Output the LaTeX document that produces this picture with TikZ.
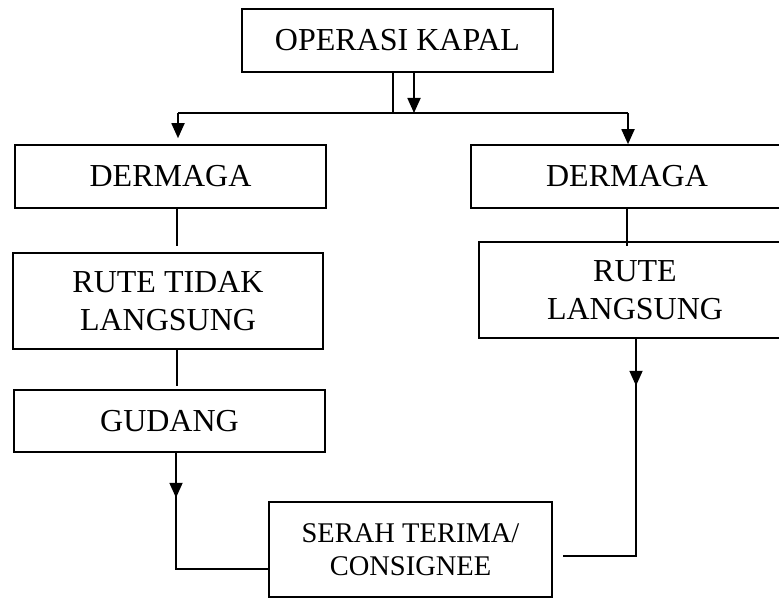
\documentclass[tikz,border=0pt]{standalone}
\usepackage{fontspec}
\setmainfont{Liberation Serif}
\usetikzlibrary{arrows.meta,decorations.markings}

\begin{document}
\begin{tikzpicture}[
  x=1pt, y=1pt,
  >={Triangle[length=15pt,width=13pt]},
  box/.style={draw, line width=1.6pt, minimum width=311pt,
              minimum height=63pt, inner sep=0pt, align=center,
              font=\fontsize{32}{38}\selectfont},
  tallbox/.style={box, minimum height=96pt},
  link/.style={line width=1.8pt},
  arr/.style={->, line width=1.8pt},
  midarr/.style={link, postaction={decorate},
                 decoration={markings, mark=at position #1 with {\arrow{>}}}},
]
\useasboundingbox (0,0) rectangle (779,-599);

% ---- Top ----
\node[box] (opk) at (397.5,-40.5) {OPERASI KAPAL};
\coordinate (bus) at (397.5,-113);

% ---- Left lane ----
\node[box] (dermL) at (170.5,-176.5) {DERMAGA};
\node[tallbox, minimum width=310pt] (rtl) at (168,-301) {RUTE TIDAK\\LANGSUNG};
\node[box, minimum height=62pt] (gudang) at (169.5,-421) {GUDANG};

% ---- Right lane ----
\node[box, minimum width=312pt] (dermR) at (627,-176.5) {DERMAGA};
\node[tallbox, minimum width=312pt] (rlang) at (635,-290) {RUTE\\LANGSUNG};

% ---- Bottom ----
\node[box, minimum width=283pt, minimum height=95pt,
      font=\fontsize{28.5}{33}\selectfont] (serah) at (410.5,-549.5)
  {SERAH TERIMA/\\CONSIGNEE};

% ---- Arrows ----
\draw[link] ([xshift=-4.5pt]opk.south) -- ([xshift=-4.5pt]opk.south |- bus);
\draw[arr] ([xshift=16.5pt]opk.south) -- ([xshift=16.5pt]opk.south |- bus);
\draw[link] ([xshift=7.5pt]dermL.north |- bus) -- ([xshift=1pt]dermR.north |- bus);
\draw[arr, shorten >=6pt] ([xshift=7.5pt]dermL.north |- bus) -- ([xshift=7.5pt]dermL.north);
\draw[arr] ([xshift=1pt]dermR.north |- bus) -- ([xshift=1pt]dermR.north);

\draw[link] ([xshift=6.5pt]dermL.south) -- ([xshift=6.5pt,yshift=6pt]dermL.south |- rtl.north);
\draw[link] ([xshift=9pt]rtl.south) -- ([xshift=9pt,yshift=3pt]rtl.south |- gudang.north);
\draw[link] (dermR.south) -- ([yshift=-5pt]dermR.south |- rlang.north);

\draw[midarr=45pt] ([xshift=6.5pt]gudang.south) |- ([yshift=-19.5pt]serah.west);
\draw[midarr=47pt, shorten >=10pt] ([xshift=1pt]rlang.south) |- ([yshift=-6.5pt]serah.east);

\end{tikzpicture}
\end{document}
